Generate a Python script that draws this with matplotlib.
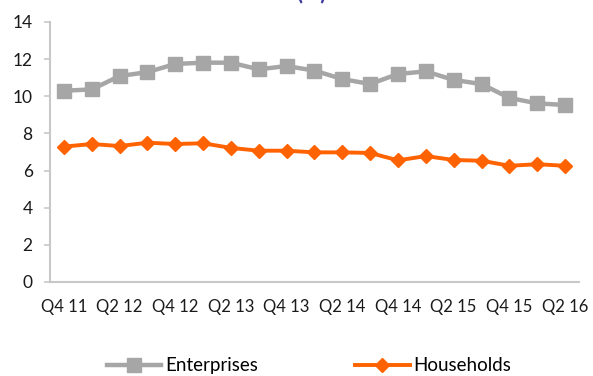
import matplotlib.pyplot as plt
import numpy as np

plt.rcParams.update({
    "font.family": ["Lato", "DejaVu Sans"],
    "font.size": 12,
})

quarters = [
    "Q4 11", "Q1 12", "Q2 12", "Q3 12", "Q4 12", "Q1 13", "Q2 13", "Q3 13",
    "Q4 13", "Q1 14", "Q2 14", "Q3 14", "Q4 14", "Q1 15", "Q2 15", "Q3 15",
    "Q4 15", "Q1 16", "Q2 16",
]
enterprises = [
    10.30, 10.37, 11.09, 11.30, 11.74, 11.81, 11.81, 11.45, 11.63, 11.38,
    10.93, 10.66, 11.20, 11.34, 10.88, 10.66, 9.91, 9.62, 9.53,
]
households = [
    7.29, 7.43, 7.32, 7.50, 7.43, 7.47, 7.22, 7.07, 7.07, 6.98,
    6.98, 6.95, 6.55, 6.78, 6.57, 6.53, 6.26, 6.34, 6.26,
]

GREY = "#A6A6A6"
ORANGE = "#FF6200"
AXIS = "#C8C8C8"

fig = plt.figure(figsize=(5.93, 3.76), dpi=100)
ax = fig.add_axes([0.0843, 0.25, 0.892, 0.6915])

x = np.arange(len(quarters))
ax.plot(x, enterprises, color=GREY, lw=3.2, marker="s", ms=9.5,
        label="Enterprises")
ax.plot(x, households, color=ORANGE, lw=2.8, marker="D", ms=7,
        label="Households")

ax.set_xlim(-0.5, len(quarters) - 0.5)
ax.set_ylim(0, 14)
ax.set_yticks(np.arange(0, 15, 2))
ax.set_xticks(x[::2])
ax.set_xticklabels(quarters[::2])

for side in ("top", "right"):
    ax.spines[side].set_visible(False)
for side in ("left", "bottom"):
    ax.spines[side].set_color(AXIS)
    ax.spines[side].set_linewidth(1.5)
ax.tick_params(axis="y", length=4.5, width=1.2, color=AXIS, pad=8,
               labelsize=12.5, labelcolor="#1a1a1a")
ax.tick_params(axis="x", length=0, pad=12, labelsize=12,
               labelcolor="#1a1a1a")

# chart title, pushed up against the top edge
fig.text(0.525, 0.992, "(%)", ha="center", va="bottom", fontsize=16,
         color="#3C3CA0", fontweight="bold")

fig.legend(loc="center", bbox_to_anchor=(0.521, 0.027), ncol=2,
           frameon=False, handlelength=2.9, columnspacing=5.2,
           handletextpad=0.2, fontsize=13.5)

fig.savefig("out.png", dpi=100)
